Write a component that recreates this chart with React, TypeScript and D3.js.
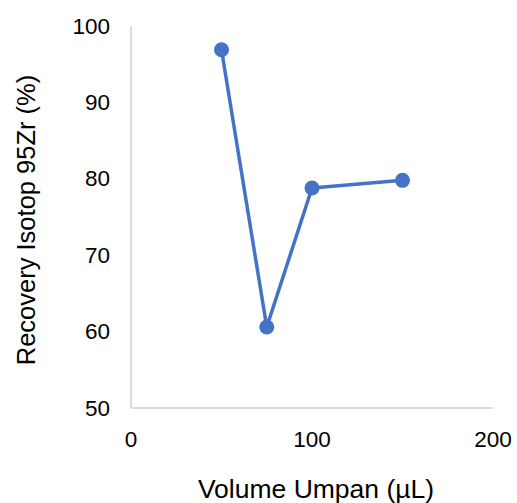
import React from "react";
import * as d3 from "d3";

// Data
const volumes = [50, 75, 100, 150];
const recovery = [96.9, 60.6, 78.8, 79.8];
const xTicks = [0, 100, 200];
const yTicks = [50, 60, 70, 80, 90, 100];

const App = () => {
  const width = 517;
  const height = 503;
  const margin = { top: 26, right: 24, bottom: 95, left: 131 };
  const plotWidth = width - margin.left - margin.right;
  const plotHeight = height - margin.top - margin.bottom;

  const xScale = d3.scaleLinear().domain([0, 200]).range([0, plotWidth]);
  const yScale = d3.scaleLinear().domain([50, 100]).range([plotHeight, 0]);

  const points = volumes.map((v, i) => ({ x: v, y: recovery[i] }));
  const line = d3
    .line<{ x: number; y: number }>()
    .x((d) => xScale(d.x))
    .y((d) => yScale(d.y));

  const font = "Liberation Sans, Arial, sans-serif";
  const axisColor = "#d0d0d0";
  const seriesColor = "#4472C4";

  return (
    <svg
      width={width}
      height={height}
      style={{ position: "absolute", left: 0, top: 0, background: "#fff" }}
      fontFamily={font}
    >
      <g transform={`translate(${margin.left}, ${margin.top})`}>
        {/* Y-axis */}
        <line x1={0} y1={0} x2={0} y2={plotHeight} stroke={axisColor} strokeWidth={1.5} />
        {yTicks.map((tick) => (
          <text
            key={tick}
            x={-21}
            y={yScale(tick)}
            textAnchor="end"
            dominantBaseline="central"
            fontSize="22.5px"
            fill="#000"
          >
            {tick}
          </text>
        ))}
        {/* X-axis */}
        <line x1={0} y1={plotHeight} x2={plotWidth} y2={plotHeight} stroke={axisColor} strokeWidth={1.5} />
        {xTicks.map((tick) => (
          <text
            key={tick}
            x={xScale(tick)}
            y={plotHeight + 39}
            textAnchor="middle"
            fontSize="22.5px"
            fill="#000"
          >
            {tick}
          </text>
        ))}
        {/* Series */}
        <path d={line(points) || ""} fill="none" stroke={seriesColor} strokeWidth={3.5} strokeLinejoin="round" />
        {points.map((d) => (
          <circle key={d.x} cx={xScale(d.x)} cy={yScale(d.y)} r={7.5} fill={seriesColor} />
        ))}
      </g>
      {/* Axis titles */}
      <text
        x={margin.left + plotWidth / 2 + 4}
        y={498}
        textAnchor="middle"
        fontSize="26.5px"
        fill="#000"
      >
        Volume Umpan (µL)
      </text>
      <text
        transform={`translate(35, ${margin.top + plotHeight / 2 + 3}) rotate(-90)`}
        textAnchor="middle"
        fontSize="25.5px"
        fill="#000"
      >
        Recovery Isotop 95Zr (%)
      </text>
    </svg>
  );
};

export default App;
